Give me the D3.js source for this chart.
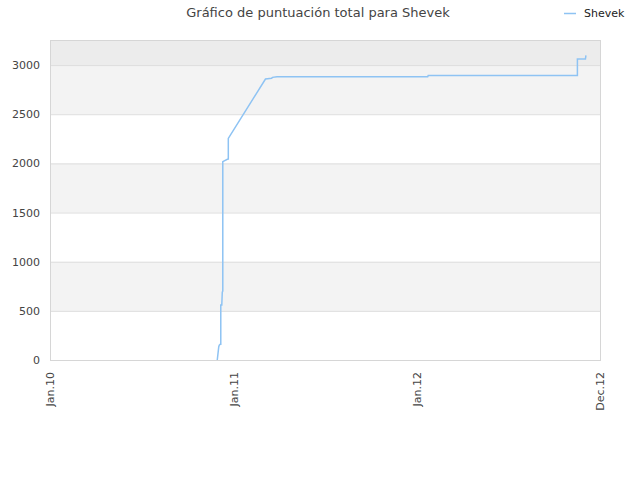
<!DOCTYPE html>
<html>
<head>
<meta charset="utf-8">
<script src="https://cdn.jsdelivr.net/npm/d3@7"></script>
<style>
  body { margin: 0; background: #fff; }
  text { font-family: "DejaVu Sans", sans-serif; }
</style>
</head>
<body>
<svg id="chart" width="640" height="480"></svg>
<script>
// series for Shevek
var dates = ["2010-11-30", "2010-12-03", "2010-12-04", "2010-12-06", "2010-12-07", "2010-12-07",
             "2010-12-09", "2010-12-10", "2010-12-11", "2010-12-11", "2010-12-21", "2010-12-22",
             "2010-12-22", "2011-03-06", "2011-03-18", "2011-03-20", "2011-03-29", "2012-01-23",
             "2012-01-24", "2012-11-16", "2012-11-16", "2012-12-02", "2012-12-03"];
var scores = [0, 135, 150, 160, 160, 560,
              560, 690, 700, 2017, 2044, 2044,
              2254, 2858, 2865, 2875, 2881, 2881,
              2895, 2895, 3061, 3061, 3099];
var yTicks = [0, 500, 1000, 1500, 2000, 2500, 3000];
var xTickDates = ["2010-01-01", "2011-01-01", "2012-01-01", "2012-12-31"];
var xTickLabels = ["Jan.10", "Jan.11", "Jan.12", "Dec.12"];
var seriesName = "Shevek";
var title = "Gráfico de puntuación total para Shevek";

var svg = d3.select("#chart"),
    margin = {top: 40, right: 40, bottom: 120, left: 50},
    width = +svg.attr("width") - margin.left - margin.right,
    height = +svg.attr("height") - margin.top - margin.bottom;

var parse = d3.timeParse("%Y-%m-%d");
var data = dates.map(function(d, i) { return {x: parse(d), y: scores[i]}; });

var x = d3.scaleTime()
    .domain([parse(xTickDates[0]), parse(xTickDates[xTickDates.length - 1])])
    .range([0, width]);
var y = d3.scaleLinear().domain([0, 3255]).range([height, 0]);

var g = svg.append("g")
    .attr("transform", "translate(" + margin.left + "," + margin.top + ")");

// alternating bands
var bands = yTicks.concat([y.domain()[1]]);
for (var i = 0; i < bands.length - 1; i++) {
  var fill = i === bands.length - 2 ? "#ececec" : (i % 2 === 1 ? "#f3f3f3" : "#ffffff");
  g.append("rect")
      .attr("x", 0)
      .attr("y", y(bands[i + 1]))
      .attr("width", width)
      .attr("height", y(bands[i]) - y(bands[i + 1]))
      .attr("fill", fill);
}

g.selectAll(".grid")
  .data(yTicks.slice(1))
  .enter().append("line")
    .attr("x1", 0).attr("x2", width)
    .attr("y1", function(d) { return y(d) + 0.5; })
    .attr("y2", function(d) { return y(d) + 0.5; })
    .attr("stroke", "#dddddd");

g.append("rect")
    .attr("x", 0.5).attr("y", 0.5)
    .attr("width", width).attr("height", height)
    .attr("fill", "none")
    .attr("stroke", "#d6d6d6");

// y axis labels
var yAxis = g.append("g")
    .call(d3.axisLeft(y).tickValues(yTicks).tickSize(0).tickPadding(10).tickFormat(d3.format("d")));
yAxis.select(".domain").remove();
yAxis.selectAll("text").attr("fill", "#444").style("font-size", "11px");

// x axis labels, rotated
var xAxis = g.append("g")
    .attr("transform", "translate(0," + height + ")")
    .call(d3.axisBottom(x)
      .tickValues(xTickDates.map(parse))
      .tickSize(0)
      .tickFormat(function(d, i) { return xTickLabels[i]; }));
xAxis.select(".domain").remove();
xAxis.selectAll("text")
    .attr("fill", "#444")
    .style("font-size", "11px")
    .attr("text-anchor", "end")
    .attr("transform", "rotate(-90)")
    .attr("x", -12)
    .attr("y", 0)
    .attr("dy", "0.35em");

var line = d3.line()
    .x(function(d) { return x(d.x); })
    .y(function(d) { return y(d.y); });

g.append("path")
    .datum(data)
    .attr("fill", "none")
    .attr("stroke", "#8ec3f3")
    .attr("stroke-width", 1.5)
    .attr("d", line);

// title
svg.append("text")
    .attr("x", 318)
    .attr("y", 17)
    .attr("text-anchor", "middle")
    .attr("fill", "#444")
    .style("font-size", "13px")
    .text(title);

// legend
svg.append("line")
    .attr("x1", 564).attr("x2", 576)
    .attr("y1", 13.5).attr("y2", 13.5)
    .attr("stroke", "#8ec3f3")
    .attr("stroke-width", 1.5);
svg.append("text")
    .attr("x", 584)
    .attr("y", 17)
    .attr("fill", "#222")
    .style("font-size", "11px")
    .text(seriesName);
</script>
</body>
</html>
